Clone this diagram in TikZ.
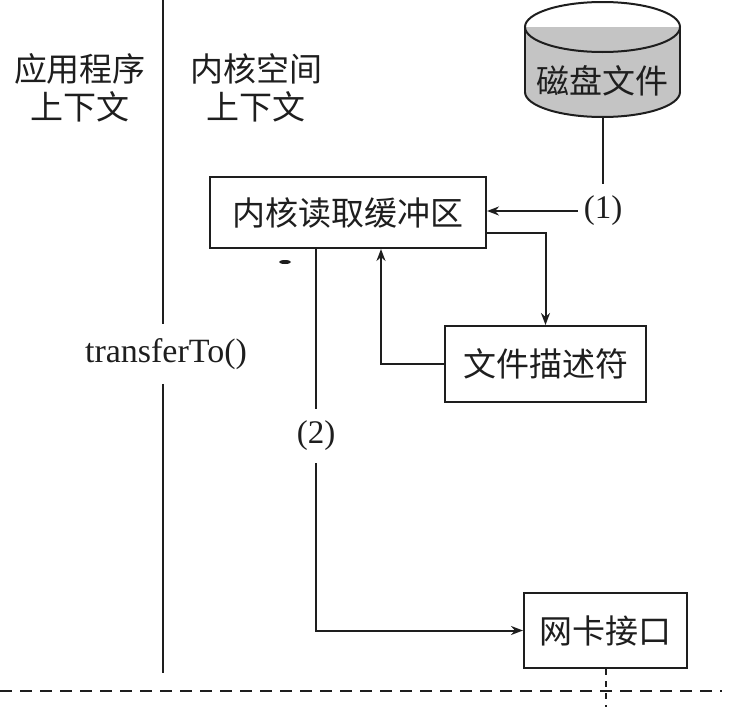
\documentclass[tikz,border=0pt]{standalone}
\usepackage{fontspec}
\setmainfont{Liberation Serif}
\newfontfamily\cjk{Noto Sans CJK SC}
\usetikzlibrary{arrows.meta}
\definecolor{ink}{HTML}{1E1E1E}
\definecolor{diskfill}{HTML}{C4C4C4}
\tikzset{
  conn/.style={draw=ink, line width=2pt},
  arr/.style={draw=ink, line width=2pt, -{Stealth[length=12pt,width=9pt]}},
  boxnode/.style={draw=ink, line width=2pt, fill=white, inner sep=0pt, text=ink,
     font=\cjk\fontsize{33}{38}\selectfont},
  cjklabel/.style={align=center, text=ink, font=\cjk\fontsize{33}{38}\selectfont},
  numlabel/.style={text=ink, font=\fontsize{33}{36}\selectfont, inner xsep=6pt, inner ysep=12pt},
}
\begin{document}
\begin{tikzpicture}[x=1pt,y=-1pt]
\useasboundingbox (0,0) rectangle (732,707);
% context labels
\node[cjklabel] (appctx) at (80,88) {应用程序\\上下文};
\node[cjklabel] (kernctx) at (256,88) {内核空间\\上下文};
% separator
\coordinate (s1) at (163,0);
\coordinate (s2) at (163,673);
\node[text=ink, font=\fontsize{34}{36}\selectfont, inner ysep=14pt] (tr) at (166,354) {transferTo()};
\draw[conn, line width=1.6pt] (s1) -- (s1 |- tr.north);
\draw[conn, line width=1.6pt] (s1 |- tr.south) -- (s2);
% disk cylinder
\fill[diskfill] (602.5,92) ellipse (77.5 and 25);
\fill[diskfill] (525,27) rectangle (680,92);
\draw[conn] (602.5,27) ellipse (77.5 and 25);
\draw[conn] (525,27) -- (525,92);
\draw[conn] (680,27) -- (680,92);
\begin{scope}
  \clip (515,92) rectangle (690,130);
  \draw[conn] (602.5,92) ellipse (77.5 and 25);
\end{scope}
\node[text=ink, font=\cjk\fontsize{33}{37}\selectfont] (disk) at (602.5,81) {磁盘文件};
\coordinate (diskbot) at (603,117);
% boxes
\node[boxnode, minimum width=276pt, minimum height=71pt] (buf) at (348,212.5) {内核读取缓冲区};
\node[boxnode, minimum width=201pt, minimum height=76pt] (fd) at (545.5,364) {文件描述符};
\node[boxnode, minimum width=163pt, minimum height=75pt] (nic) at (605.5,630.5) {网卡接口};
% (1)
\node[numlabel] (one) at (603,211) {(1)};
\draw[conn] (diskbot) -- (diskbot |- one.north);
\draw[arr] (one.west) -- (one.west -| buf.east);
% buffer -> fd
\draw[arr] ([yshift=-20.5pt]buf.east) -| (fd.north);
% fd -> buffer
\draw[arr] (fd.west) -| ([xshift=33pt]buf.south);
% (2)
\node[numlabel] (two) at (316,436) {(2)};
\draw[conn] ([xshift=-32pt]buf.south) -- (two.north);
\draw[arr] (two.south) |- (nic.west);
% small mark
\fill[ink] (285,262) ellipse (6 and 2);
% bottom dashed line and dotted vertical
\coordinate (dl) at (0,691);
\coordinate (dr) at (722,691);
\draw[ink, line width=1.6pt, dash pattern=on 12pt off 8pt] (dl) -- (dr);
\coordinate (nicdown) at (605.5,707);
\draw[ink, line width=2pt, dash pattern=on 6pt off 6pt] (nic.south) -- (nicdown);
\end{tikzpicture}
\end{document}
